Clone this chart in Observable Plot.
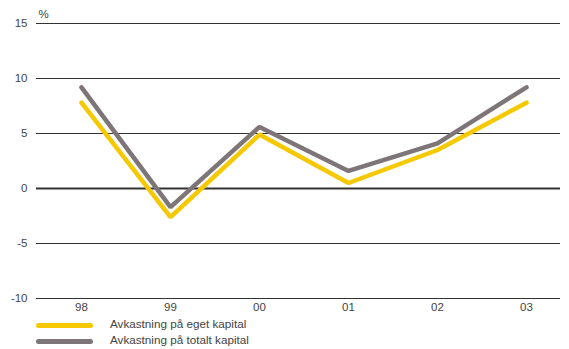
<!DOCTYPE html>
<html>
<head>
<meta charset="utf-8">
<script src="https://cdn.jsdelivr.net/npm/d3@7"></script>
<script src="https://cdn.jsdelivr.net/npm/@observablehq/plot@0.6"></script>
<style>
  body { margin: 0; background: #fff; font-family: "Liberation Sans", Arial, sans-serif; }
  #chart svg { display: block; }
  .legend { position: relative; height: 34px; font-size: 11.7px; color: #444; }
  .row { position: absolute; left: 0; height: 16px; width: 400px; }
  .sw { position: absolute; left: 36px; top: 6px; width: 57px; height: 5px; border-radius: 3px; }
  .lb { position: absolute; left: 110px; top: 0px; }
</style>
</head>
<body>
<div id="chart"></div>
<div class="legend">
  <div class="row" style="top:2px"><div class="sw" style="background:#f5c800"></div><div class="lb" id="l1"></div></div>
  <div class="row" style="top:18px"><div class="sw" style="background:#7e7579"></div><div class="lb" id="l2"></div></div>
</div>
<script>
const years = ["98", "99", "00", "01", "02", "03"];
const eget = [7.8, -2.6, 4.9, 0.5, 3.5, 7.8];
const totalt = [9.2, -1.7, 5.6, 1.6, 4.1, 9.2];
const seriesNames = ["Avkastning på eget kapital", "Avkastning på totalt kapital"];
const seriesColors = ["#f5c800", "#7e7579"];
const yTicks = [-10, -5, 0, 5, 10, 15];

document.getElementById("l1").textContent = seriesNames[0];
document.getElementById("l2").textContent = seriesNames[1];

const rows = [];
years.forEach((y, i) => {
  rows.push({year: y, value: eget[i], series: seriesNames[0]});
  rows.push({year: y, value: totalt[i], series: seriesNames[1]});
});

const chart = Plot.plot({
  width: 569,
  height: 315,
  marginLeft: 36,
  marginRight: 9,
  marginTop: 23,
  marginBottom: 17,
  style: { fontFamily: "Liberation Sans, Arial, sans-serif", fontSize: "11.5px", color: "#444", background: "#fff" },
  x: { type: "point", domain: years, padding: 0, insetLeft: 43, insetRight: 32, label: null, tickSize: 0, tickPadding: 4 },
  y: { domain: [-10, 15], ticks: yTicks, tickFormat: d => String(d), label: null, tickSize: 0, tickPadding: 9 },
  color: { domain: seriesNames, range: seriesColors },
  marks: [
    Plot.ruleY(yTicks.filter(d => d !== 0), { stroke: "#333", strokeWidth: 1 }),
    Plot.ruleY([0], { stroke: "#333", strokeWidth: 1.8 }),
    Plot.text(["%"], { frameAnchor: "top-left", dx: 2, dy: -9, lineAnchor: "middle", fill: "#444", fontSize: 11.5 }),
    Plot.line(rows, { x: "year", y: "value", z: "series", stroke: "series", strokeWidth: 4.5, strokeLinejoin: "miter", strokeLinecap: "round" })
  ]
});
document.getElementById("chart").appendChild(chart);
</script>
</body>
</html>
